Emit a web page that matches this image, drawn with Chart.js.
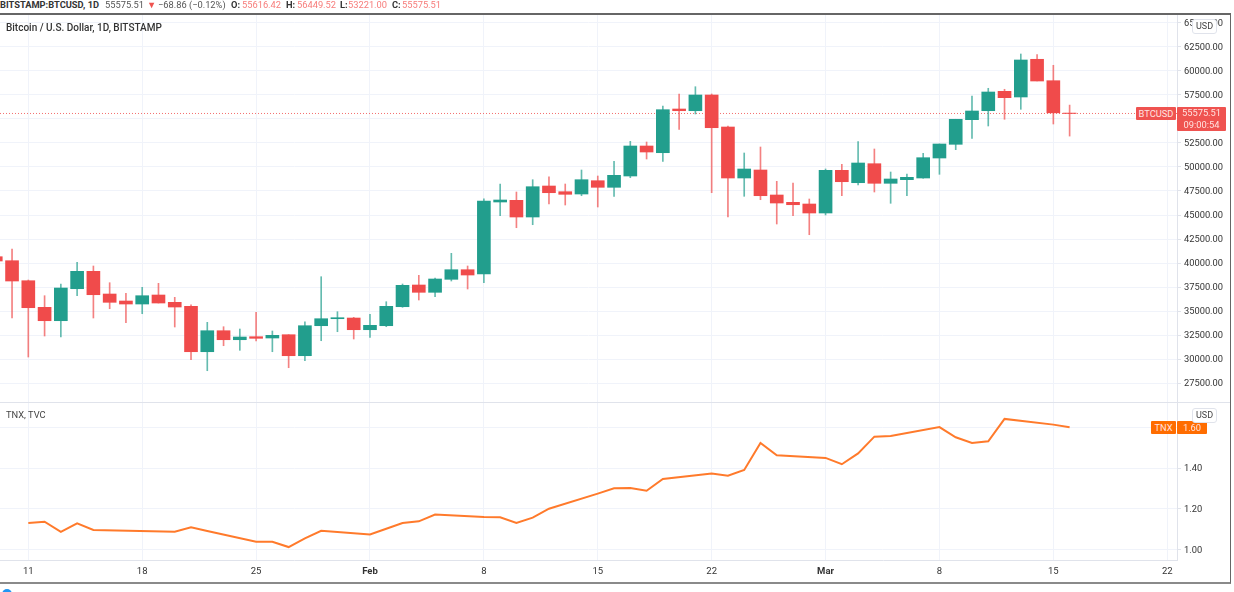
<!DOCTYPE html>
<html>
<head>
<meta charset="utf-8">
<title>BTCUSD / TNX</title>
<script src="https://cdn.jsdelivr.net/npm/chart.js@4"></script>
<style>
    html, body { margin: 0; padding: 0; background: #fff; overflow: hidden; }
    body { width: 1234px; height: 592px; position: relative; font-family: Roboto, sans-serif; }
    canvas { position: absolute; left: 0; }
    #priceChart { top: 15px; }
    #tnxChart { top: 403px; }
    .frame { position: absolute; left: -3px; top: 13px; width: 1232px; height: 567px; border: 1px solid #666; border-width: 2px 1px 2px 1px; border-bottom-color: #8a8a8a; }
    .sep { position: absolute; left: 0; top: 402px; width: 1230px; height: 1px; background: #e0e3eb; }
    .t { position: absolute; white-space: nowrap; font-size: 9.3px; line-height: 12px; color: #555; }
    .b { font-weight: 700; color: #333; }
    .red { color: #f77c7a; }
    .badge { position: absolute; color: #ffe3e0; font-size: 9.3px; text-align: center; border-radius: 1px; }
    .usd { position: absolute; left: 1192px; width: 23px; height: 13px; line-height: 13px; background: #fff; border: 1px solid #e0e3eb; border-radius: 3px; font-size: 9px; color: #444; text-align: center; }
</style>
</head>
<body>
<canvas id="priceChart" width="1234" height="388"></canvas>
<canvas id="tnxChart" width="1234" height="178"></canvas>
<div class="frame"></div>
<div class="sep"></div>

<!-- riga intestazione -->
<div class="t b" style="left:0;top:-1px">BITSTAMP:BTCUSD, 1D</div>
<div class="t" style="left:105px;top:-1px">55575.51</div>
<div class="t" style="left:147px;top:-1px;color:#ef5350">▼</div>
<div class="t" style="left:158px;top:-1px">−68.86 (−0.12%)</div>
<div class="t b" style="left:231px;top:-1px">O:</div><div class="t red" style="left:242px;top:-1px">55616.42</div>
<div class="t b" style="left:286px;top:-1px">H:</div><div class="t red" style="left:297px;top:-1px">56449.52</div>
<div class="t b" style="left:340px;top:-1px">L:</div><div class="t red" style="left:348px;top:-1px">53221.00</div>
<div class="t b" style="left:392px;top:-1px">C:</div><div class="t red" style="left:402px;top:-1px">55575.51</div>

<div class="t" style="left:6px;top:21.5px;font-size:10px;font-weight:500;color:#333">Bitcoin / U.S. Dollar, 1D, BITSTAMP</div>
<div class="t" style="left:6px;top:409px;color:#444">TNX, TVC</div>

<div class="badge" style="left:1136px;top:107px;width:40px;height:13px;line-height:13px;background:#ef5350">BTCUSD</div>
<div class="badge" style="left:1177px;top:107px;width:49px;height:24px;line-height:11.5px;background:#ef5350">55575.51<br>09:00:54</div>
<div class="usd" style="top:19px">USD</div>

<div class="badge" style="left:1151px;top:421px;width:25px;height:13px;line-height:13px;background:#ff6d00">TNX</div>
<div class="badge" style="left:1177px;top:421px;width:30px;height:13px;line-height:13px;background:#ff6d00">1.60</div>
<div class="usd" style="top:408px">USD</div>

<div style="position:absolute;left:2px;top:589px;width:10px;height:10px;border-radius:50%;background:#2196f3"></div>

<script>
// Primo giorno della serie, contato da Jan 11 (indice 0)
const firstDay = -2;

// Candele giornaliere, da Jan 9 a Mar 16
const opens = [40656, 40239, 38155, 35384, 33989, 37322, 39135, 36770, 36041, 35728, 36666, 35905, 35489, 30759, 32947, 32009, 32322, 32187, 32530, 30343, 33468, 34197, 34270, 33051, 33468, 35447, 37708, 36947, 38301, 39301, 38853, 46354, 46531, 44791, 48020, 47427, 47187, 48572, 47885, 49062, 52187, 51489, 56041, 55864, 57500, 54166, 48854, 49687, 47083, 46322, 46145, 45208, 49656, 48364, 50343, 48302, 48677, 48854, 50937, 52364, 54927, 55864, 57885, 57292, 61219, 58989, 55616];
const highs = [41354, 41458, 38228, 36593, 37812, 40072, 39687, 37947, 36843, 37468, 37885, 36426, 35655, 33822, 33364, 33124, 34864, 32916, 32530, 33884, 38572, 34926, 34343, 34655, 35968, 37812, 38718, 38437, 41010, 39687, 46697, 48229, 47395, 48676, 48989, 48229, 49687, 49062, 50593, 52677, 52604, 56354, 57604, 58364, 57604, 54271, 51458, 52083, 48510, 48333, 46666, 49791, 50281, 52635, 51875, 49479, 49270, 51427, 52396, 54969, 57396, 58198, 58094, 61771, 61698, 60594, 56449.52];
const lows = [39270, 34270, 30207, 32395, 32291, 36593, 34270, 35239, 33780, 34718, 35832, 33332, 29926, 28780, 31384, 30905, 31874, 30759, 29093, 29822, 31905, 32843, 32082, 32259, 33364, 35384, 36145, 36489, 38124, 37291, 37947, 44926, 43676, 43989, 46145, 46041, 47010, 45833, 46947, 48885, 50833, 50593, 53927, 55521, 47322, 44791, 46947, 46593, 44062, 44926, 42947, 44999, 47010, 48125, 47395, 46218, 47010, 48822, 49239, 51802, 52989, 54271, 54969, 56010, 58958, 54479, 53221];
const closes = [40208, 38124, 35343, 33989, 37395, 39135, 36697, 35905, 35728, 36593, 35832, 35416, 30759, 32947, 32009, 32291, 32155, 32468, 30343, 33468, 34197, 34301, 33051, 33509, 35489, 37676, 36947, 38333, 39301, 38749, 46458, 46562, 44791, 47947, 47322, 47156, 48676, 47885, 49135, 52187, 51562, 55969, 55864, 57500, 54093, 48854, 49791, 47010, 46249, 46072, 45208, 49656, 48468, 50416, 48302, 48750, 48927, 50968, 52396, 54969, 55833, 57812, 57219, 61146, 58958, 55644, 55575.51];

// Rendimento TNX: solo i giorni di contrattazione
const tnxDays = [0, 1, 2, 3, 4, 9, 10, 11, 14, 15, 16, 17, 18, 21, 22, 23, 24, 25, 28, 29, 30, 31, 32, 35, 36, 37, 38, 39, 42, 43, 44, 45, 46, 49, 50, 51, 52, 53, 56, 57, 58, 59, 60, 63, 64];
const tnxValues = [1.131, 1.137, 1.087, 1.129, 1.097, 1.088, 1.110, 1.092, 1.039, 1.039, 1.013, 1.056, 1.093, 1.075, 1.103, 1.131, 1.139, 1.172, 1.160, 1.159, 1.131, 1.157, 1.201, 1.275, 1.301, 1.302, 1.289, 1.347, 1.373, 1.363, 1.391, 1.523, 1.463, 1.450, 1.419, 1.472, 1.554, 1.557, 1.601, 1.551, 1.523, 1.531, 1.641, 1.613, 1.600];

const tickDays = [0, 7, 14, 21, 28, 35, 42, 49, 56, 63, 70];
const tickLabels = ['11', '18', '25', 'Feb', '8', '15', '22', 'Mar', '8', '15', '22'];
const priceTicks = [27500, 30000, 32500, 35000, 37500, 40000, 42500, 45000, 47500, 50000, 52500, 55000, 57500, 60000, 62500, 65000];
const tnxTicks = [1.00, 1.20, 1.40, 1.60];

const UP = '#229e8d';
const DOWN = '#f04b4b';
const UP_WICK = 'rgba(34,158,141,0.7)';
const DOWN_WICK = 'rgba(240,75,75,0.7)';
const GRID = '#f0f3fa';
const AXIS = '#e0e3eb';
const TEXT = '#333';
const FONT = 'Roboto, sans-serif';

// Finestra visibile dell'asse x (in giorni)
const xMin = -1.74;
const xMax = 70.6;

const isUp = i => closes[i] >= opens[i];
const dayOf = i => firstDay + i;

// Toglie i margini che Chart.js riserva alle etichette ai bordi
function noPadding(scale) {
    scale.paddingTop = 0;
    scale.paddingBottom = 0;
    scale.paddingLeft = 0;
    scale.paddingRight = 0;
}

function xScale(showLabels) {
    return {
        type: 'linear',
        offset: false,
        min: xMin,
        max: xMax,
        afterBuildTicks: scale => { scale.ticks = tickDays.map(v => ({ value: v })); },
        afterFit: scale => { scale.height = showLabels ? 21 : 0; noPadding(scale); },
        grid: { color: GRID, offset: false, drawTicks: false },
        border: { display: showLabels, color: AXIS },
        ticks: {
            display: showLabels,
            autoSkip: false,
            maxRotation: 0,
            padding: 6,
            color: TEXT,
            font: ctx => ({ family: FONT, size: 9.5, weight: /[A-Z]/.test(tickLabels[ctx.index] || '') ? '700' : '400' }),
            callback: (value, index) => tickLabels[index]
        }
    };
}

function yScale(min, max, ticks, decimals) {
    return {
        position: 'right',
        min: min,
        max: max,
        afterBuildTicks: scale => { scale.ticks = ticks.map(v => ({ value: v })); },
        afterFit: scale => { scale.width = 57; noPadding(scale); },
        grid: { color: GRID, tickColor: AXIS, tickLength: 4 },
        border: { color: AXIS },
        ticks: {
            autoSkip: false,
            padding: 3,
            color: TEXT,
            // riga vuota con lineHeight 2px: abbassa l'etichetta di 1px
            font: { family: FONT, size: 9.3, lineHeight: '2px' },
            callback: value => ['', value.toFixed(decimals)]
        }
    };
}

const baseOptions = {
    responsive: false,
    animation: false,
    devicePixelRatio: 1,
    layout: { padding: 0 },
    plugins: { legend: { display: false }, tooltip: { enabled: false } }
};

new Chart(document.getElementById('priceChart'), {
    type: 'bar',
    data: {
        datasets: [
            {
                type: 'line',
                data: [{ x: xMin, y: closes[closes.length - 1] }, { x: xMax, y: closes[closes.length - 1] }],
                borderColor: 'rgba(240,75,75,0.8)',
                borderWidth: 1,
                borderDash: [1, 2],
                pointRadius: 0,
                order: 3
            },
            {
                data: opens.map((o, i) => ({ x: dayOf(i), y: [lows[i], highs[i]] })),
                backgroundColor: opens.map((o, i) => isUp(i) ? UP_WICK : DOWN_WICK),
                barThickness: 1,
                grouped: false,
                order: 2
            },
            {
                data: opens.map((o, i) => ({ x: dayOf(i), y: [o, closes[i]] })),
                backgroundColor: opens.map((o, i) => isUp(i) ? UP : DOWN),
                barThickness: 13,
                grouped: false,
                order: 1
            }
        ]
    },
    options: {
        ...baseOptions,
        scales: {
            x: xScale(false),
            y: yScale(25417, 65833, priceTicks, 2)
        }
    }
});

new Chart(document.getElementById('tnxChart'), {
    type: 'line',
    data: {
        datasets: [{
            data: tnxDays.map((d, i) => ({ x: d, y: tnxValues[i] })),
            borderColor: '#ff7a2b',
            borderWidth: 2,
            pointRadius: 0,
            tension: 0
        }]
    },
    options: {
        ...baseOptions,
        scales: {
            x: xScale(true),
            y: yScale(0.9495, 1.719, tnxTicks, 2)
        }
    }
});
</script>
</body>
</html>
